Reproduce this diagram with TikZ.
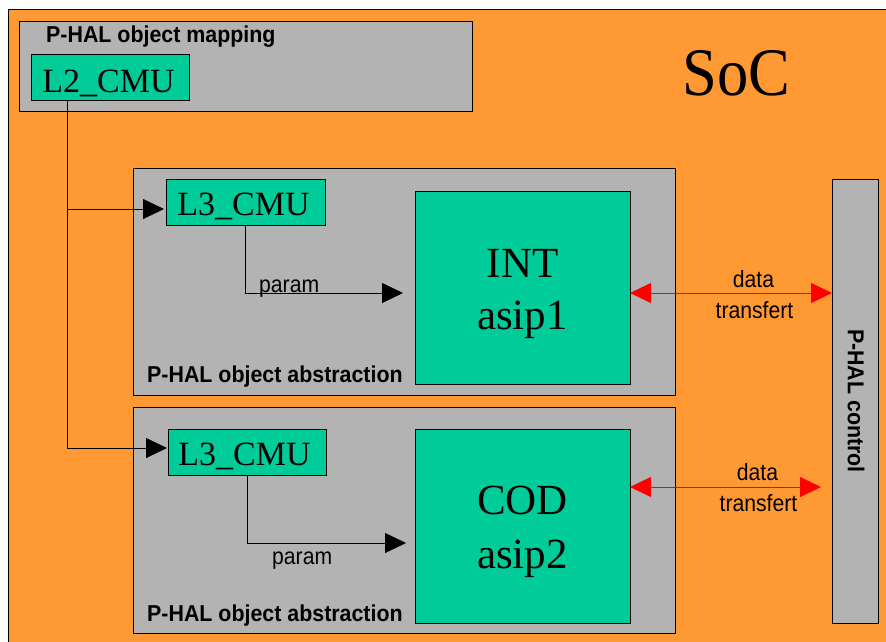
\documentclass[tikz,border=0pt]{standalone}
\usepackage{fontspec}
\setmainfont{Liberation Serif}
\newfontfamily\serifn{Liberation Serif}
\newfontfamily\sansn[FakeStretch=0.9]{Liberation Sans}
\newfontfamily\sansb[FakeStretch=0.93]{Liberation Sans}
\newfontfamily\serifsoc[FakeStretch=0.92]{Liberation Serif}
\usetikzlibrary{arrows.meta,calc}
\definecolor{socorange}{RGB}{255,153,51}
\definecolor{boxgray}{RGB}{179,179,179}
\definecolor{boxgreen}{RGB}{0,204,153}
\definecolor{arrred}{RGB}{255,0,0}
\tikzset{
  panel/.style={draw=black, line width=0.8pt, fill=boxgray, inner sep=0pt, outer sep=0pt, anchor=north west},
  unit/.style={draw=black, line width=0.8pt, fill=boxgreen, inner sep=0pt, outer sep=0pt, anchor=north west},
  lbl/.style={font=\sansb\bfseries\fontsize{23}{27}\selectfont, inner sep=0pt, anchor=base west},
  note/.style={font=\sansn\fontsize{23.5}{28}\selectfont, inner sep=0pt, anchor=base},
  bigtxt/.style={font=\serifn\fontsize{43}{50}\selectfont, inner sep=0pt, anchor=base},
  cmutxt/.style={font=\serifn\fontsize{34}{40}\selectfont, inner sep=0pt, anchor=base},
  conn/.style={draw=black, line width=0.8pt, -{Triangle[length=21pt,width=20pt]}},
  dataarr/.style={draw=arrred, line width=0.8pt, {Triangle[length=21pt,width=20pt]}-{Triangle[length=21pt,width=20pt]}}
}
\begin{document}
\begin{tikzpicture}[x=1pt,y=-1pt]
\useasboundingbox (0,0) rectangle (886,641);
\clip (0,0) rectangle (886,641);
% SoC background
\fill[socorange] (8,9) rectangle (900,660);
\draw[black, line width=0.8pt] (900,9) -- (8,9) -- (8,660);
\node[font=\serifsoc\fontsize{68}{80}\selectfont, inner sep=0pt, anchor=base] (soc) at (736.5,95) {SoC};

% P-HAL object mapping
\node[panel, minimum width=453pt, minimum height=90pt] (map) at (19,21) {};
\node[lbl] (mapt) at (46,42) {P-HAL object mapping};
\node[unit, minimum width=158pt, minimum height=46pt] (l2) at (31,54) {};
\node[cmutxt] (l2t) at (108.5,92) {L2\_CMU};

% abstraction panel 1
\node[panel, minimum width=542pt, minimum height=227pt] (abs1) at (133,168) {};
\node[lbl] (abs1t) at (147,382) {P-HAL object abstraction};
\node[unit, minimum width=159pt, minimum height=46pt] (l3a) at (166,179) {};
\node[cmutxt] (l3at) at (243.5,215) {L3\_CMU};
\node[unit, minimum width=215pt, minimum height=193pt] (int) at (415,191) {};
\node[bigtxt] (intt) at (522.5,277) {INT};
\node[bigtxt] (asip1t) at (522.5,329) {asip1};

% abstraction panel 2
\node[panel, minimum width=542pt, minimum height=226pt] (abs2) at (133,407) {};
\node[lbl] (abs2t) at (147,621) {P-HAL object abstraction};
\node[unit, minimum width=158pt, minimum height=46pt] (l3b) at (168,429) {};
\node[cmutxt] (l3bt) at (244.5,465) {L3\_CMU};
\node[unit, minimum width=215pt, minimum height=194pt] (cod) at (415,429) {};
\node[bigtxt] (codt) at (522.5,514) {COD};
\node[bigtxt] (asip2t) at (522.5,568) {asip2};

% P-HAL control
\node[panel, minimum width=46pt, minimum height=444pt] (ctrl) at (832,179) {};
\node[lbl, anchor=center, rotate=-90] (ctrlt) at (856,401) {P-HAL control};

% L2 -> L3 connectors
\coordinate (trunk) at (67,0);
\coordinate (l3ain) at ([yshift=-7pt,xshift=-2pt]l3a.west);
\coordinate (l3bin) at ([yshift=4pt,xshift=-1pt]l3b.west);
\draw[conn] (trunk |- l2.south) -- (trunk |- l3bin) -- (l3bin);
\draw[conn] (trunk |- l3ain) -- (l3ain);

% param connectors
\coordinate (pa) at ([xshift=-12pt,yshift=-5.5pt]int.west);
\coordinate (pb) at ([xshift=-9pt,yshift=-17pt]cod.west);
\draw[conn] (l3a.south) |- (pa);
\draw[conn] (l3b.south) |- (pb);
\node[note, anchor=base west] (pat) at (259,292) {param};
\node[note, anchor=base west] (pbt) at (272,564) {param};

% data transfer
\coordinate (ra) at ([yshift=-5.5pt]int.east);
\draw[dataarr] (ra) -- (ra -| ctrl.west);
\node[note] (d1) at (753.5,287) {data};
\node[note] (t1) at (754.5,318) {transfert};
\coordinate (rbend) at (821,487);
\draw[dataarr] (cod.east |- rbend) -- (rbend);
\node[note] (d2) at (757.5,480) {data};
\node[note] (t2) at (758.5,511) {transfert};
\end{tikzpicture}
\end{document}
